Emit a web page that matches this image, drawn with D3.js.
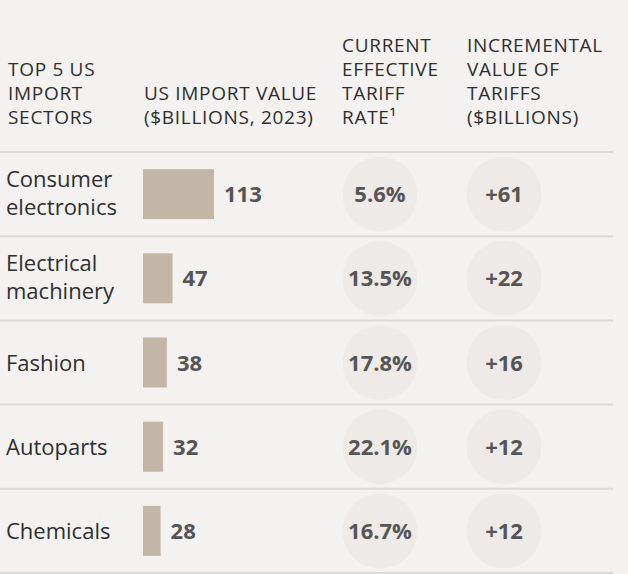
<!DOCTYPE html>
<html><head><meta charset="utf-8">
<script src="https://cdn.jsdelivr.net/npm/d3@7"></script>
<style>
html,body{margin:0;padding:0;background:#f3f2f0;}
svg{display:block;}
</style></head>
<body>
<svg id="chart" width="628" height="574"></svg>
<script>
const sectors = [["Consumer","electronics"],["Electrical","machinery"],["Fashion"],["Autoparts"],["Chemicals"]];
const importValues = [113, 47, 38, 32, 28];
const tariffRates = ["5.6%", "13.5%", "17.8%", "22.1%", "16.7%"];
const incremental = ["+61", "+22", "+16", "+12", "+12"];
const headers = [
  {x: 8, lines: ["TOP 5 US","IMPORT","SECTORS"]},
  {x: 144, lines: ["US IMPORT VALUE","($BILLIONS, 2023)"]},
  {x: 342, lines: ["CURRENT","EFFECTIVE","TARIFF","RATE¹"]},
  {x: 467, lines: ["INCREMENTAL","VALUE OF","TARIFFS","($BILLIONS)"]}
];

const svg = d3.select("#chart");
const font = "'Open Sans', 'Noto Sans', sans-serif";

const y = d3.scaleBand().domain(d3.range(sectors.length)).range([152, 573]).padding(0);
const x = d3.scaleLinear().domain([0, 113]).range([0, 71]);
const barX = 143;

// headers (bottom aligned at baseline 124)
headers.forEach(h => {
  const n = h.lines.length;
  h.lines.forEach((l, i) => {
    svg.append("text").attr("font-family", font).attr("font-size", 19)
      .attr("fill", "#2e2e2e").attr("letter-spacing", 0.7)
      .attr("x", h.x).attr("y", 124 - (n - 1 - i) * 24).text(l);
  });
});

// row lines
const lineYs = d3.range(sectors.length + 1).map(i => i < sectors.length ? y(i) : y(sectors.length - 1) + y.bandwidth());
svg.selectAll("line.row").data(lineYs).join("line")
  .attr("x1", 0).attr("x2", 613).attr("y1", d => d).attr("y2", d => d)
  .attr("stroke", "#dcdad7").attr("stroke-width", 2);

const rows = svg.selectAll("g.row").data(sectors).join("g")
  .attr("transform", (d, i) => `translate(0,${y(i) + y.bandwidth() / 2})`);

// labels
rows.each(function(d) {
  const g = d3.select(this);
  const n = d.length;
  d.forEach((l, i) => {
    g.append("text").attr("font-family", font).attr("font-size", 22).attr("fill", "#2f2f2f")
      .attr("x", 6).attr("y", (i - (n - 1) / 2) * 28 + (n > 1 ? 7 : 8)).text(l);
  });
});

// bars
rows.append("rect").attr("x", barX).attr("y", -25)
  .attr("width", (d, i) => x(importValues[i])).attr("height", 50).attr("fill", "#c3b6a7");
rows.append("text").attr("x", (d, i) => barX + x(importValues[i]) + 10).attr("y", 8)
  .attr("font-family", font).attr("font-weight", 700).attr("font-size", 22).attr("fill", "#555")
  .text((d, i) => importValues[i]);

// circles
rows.append("circle").attr("cx", 380).attr("cy", 0).attr("r", 37.5).attr("fill", "#eeeae7");
rows.append("circle").attr("cx", 504).attr("cy", 0).attr("r", 37.5).attr("fill", "#eeeae7");
rows.append("text").attr("x", 380).attr("y", 8).attr("text-anchor", "middle")
  .attr("font-family", font).attr("font-weight", 700).attr("font-size", 22).attr("fill", "#555")
  .text((d, i) => tariffRates[i]);
rows.append("text").attr("x", 504).attr("y", 8).attr("text-anchor", "middle")
  .attr("font-family", font).attr("font-weight", 700).attr("font-size", 22).attr("fill", "#555")
  .text((d, i) => incremental[i]);
</script>
</body></html>
